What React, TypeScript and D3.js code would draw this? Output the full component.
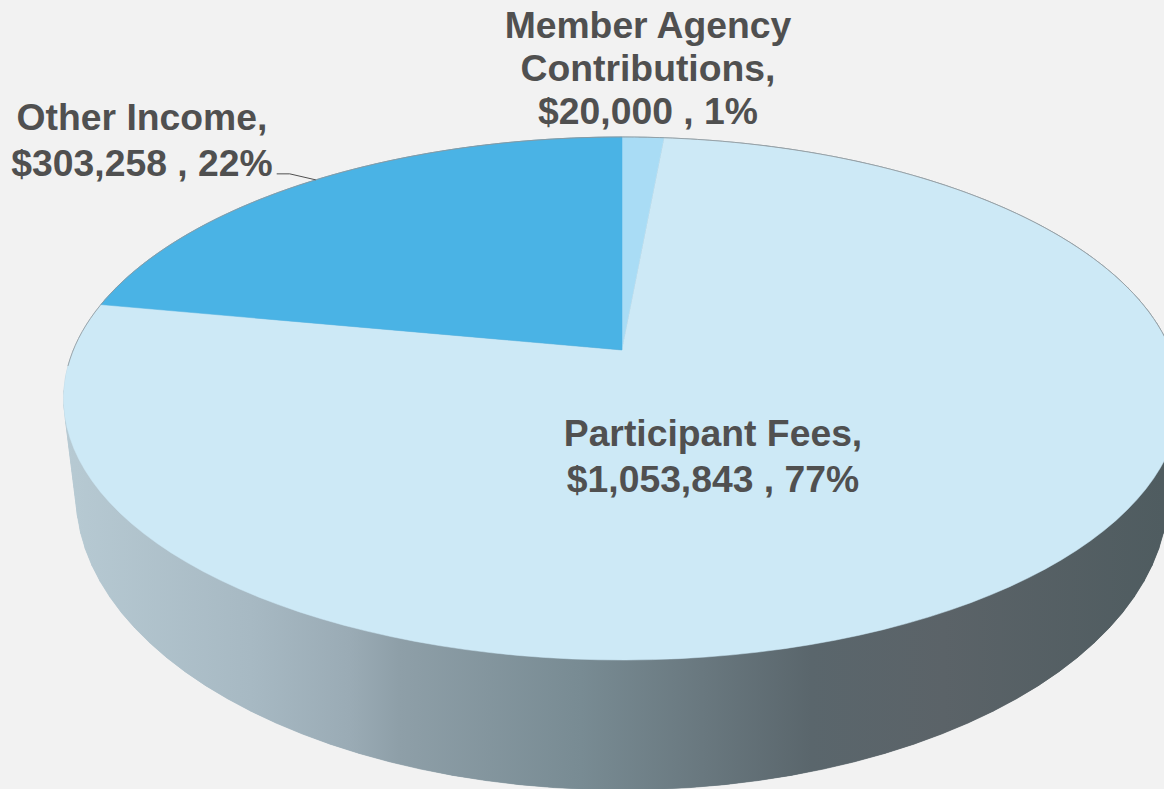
import React from 'react';
import * as d3 from 'd3';

const categories = ['Member Agency Contributions', 'Participant Fees', 'Other Income'];
const values = [20000, 1053843, 303258];
const sliceColors = ['#a9dcf5', '#cde9f6', '#4ab3e5'];
const labelLines = [
  ['Member Agency', 'Contributions,', '$20,000 , 1%'],
  ['Participant Fees,', '$1,053,843 , 77%'],
  ['Other Income,', '$303,258 , 22%'],
];
const labelAnchors = [
  { x: 648, y: 38 },
  { x: 713, y: 446 },
  { x: 142, y: 130 },
];
const sideStops: [number, string][] = [
  [0.0, '#b7cad3'],
  [0.17, '#a7b9c3'],
  [0.26, '#9aabb5'],
  [0.305, '#8e9fa8'],
  [0.47, '#788b93'],
  [0.58, '#69787f'],
  [0.68, '#5a666c'],
  [0.8, '#5b6368'],
  [1.0, '#4f5c60'],
];

const W = 1164;
const H = 789;

// Perspective projection of a unit disc on to the page
type Proj = { cx: number; cy: number; R: number; S: number; k: number };
const topDisc: Proj = { cx: 622, cy: 350, R: 548.7, S: 252.5, k: 0.1855 };
const baseDisc: Proj = { cx: 622, cy: 440, R: 536.5, S: 285, k: 0.1855 };

const project = (p: Proj, a: number): [number, number] => {
  const u = Math.sin(a);
  const v = -Math.cos(a);
  const d = 1 - p.k * v;
  return [p.cx + (p.R * u) / d, p.cy + (p.S * v) / d];
};

const line = d3.line<[number, number]>().x((d) => d[0]).y((d) => d[1]);
const TAU = Math.PI * 2;
const ring = (p: Proj, a0: number, a1: number) =>
  d3.range(0, 121).map((i) => project(p, a0 + ((a1 - a0) * i) / 120));

export default function App() {
  const arcs = d3.pie<number>().sort(null).startAngle(0).endAngle(TAU)(values);
  const topRing = ring(topDisc, 0, TAU);
  const baseRing = ring(baseDisc, 0, TAU);
  const otherMid = (arcs[2].startAngle + arcs[2].endAngle) / 2;
  const tip = project(topDisc, otherMid);
  const sideX = d3.scaleLinear().domain([0, 1]).range([64, 1164]);

  return (
    <svg
      width={W}
      height={H}
      viewBox={`0 0 ${W} ${H}`}
      style={{ position: 'fixed', left: 0, top: 0, background: '#f2f2f2' }}
    >
      <defs>
        <linearGradient id="side" gradientUnits="userSpaceOnUse" x1={sideX(0)} x2={sideX(1)} y1={0} y2={0}>
          {sideStops.map(([o, c]) => (
            <stop key={o} offset={o} stopColor={c} />
          ))}
        </linearGradient>
      </defs>

      <g fill="url(#side)" stroke="none">
        <path d={(line(baseRing) ?? '') + 'Z'} />
        {d3.range(0, 120).map((i) => (
          <path
            key={i}
            d={
              (line([topRing[i], topRing[i + 1], baseRing[i + 1], baseRing[i]]) ?? '') + 'Z'
            }
            stroke="url(#side)"
            strokeWidth={0.6}
          />
        ))}
      </g>

      {arcs.map((a, i) => (
        <path
          key={categories[i]}
          d={
            (line([
              [topDisc.cx, topDisc.cy],
              ...ring(topDisc, a.startAngle, a.endAngle),
            ]) ?? '') + 'Z'
          }
          fill={sliceColors[i]}
          stroke={sliceColors[i]}
          strokeWidth={0.5}
        />
      ))}
      <path
        d={(line(ring(topDisc, -Math.PI * 0.52, Math.PI * 0.52)) ?? '')}
        fill="none"
        stroke="#8f9699"
        strokeWidth={0.8}
      />

      <path
        d={line([[tip[0] - 39, tip[1] - 6], [tip[0] - 26, tip[1] - 6], tip]) ?? ''}
        fill="none"
        stroke="#505050"
        strokeWidth={1}
      />

      {labelLines.map((lines, i) => (
        <text
          key={categories[i]}
          textAnchor="middle"
          fontFamily="'Liberation Sans', Arial, sans-serif"
          fontWeight="bold"
          fontSize={37.3}
          fill="#505050"
        >
          {lines.map((l, j) => (
            <tspan key={l} x={labelAnchors[i].x} y={labelAnchors[i].y + j * (i === 0 ? 43 : 45.5)}>
              {l}
            </tspan>
          ))}
        </text>
      ))}
    </svg>
  );
}
